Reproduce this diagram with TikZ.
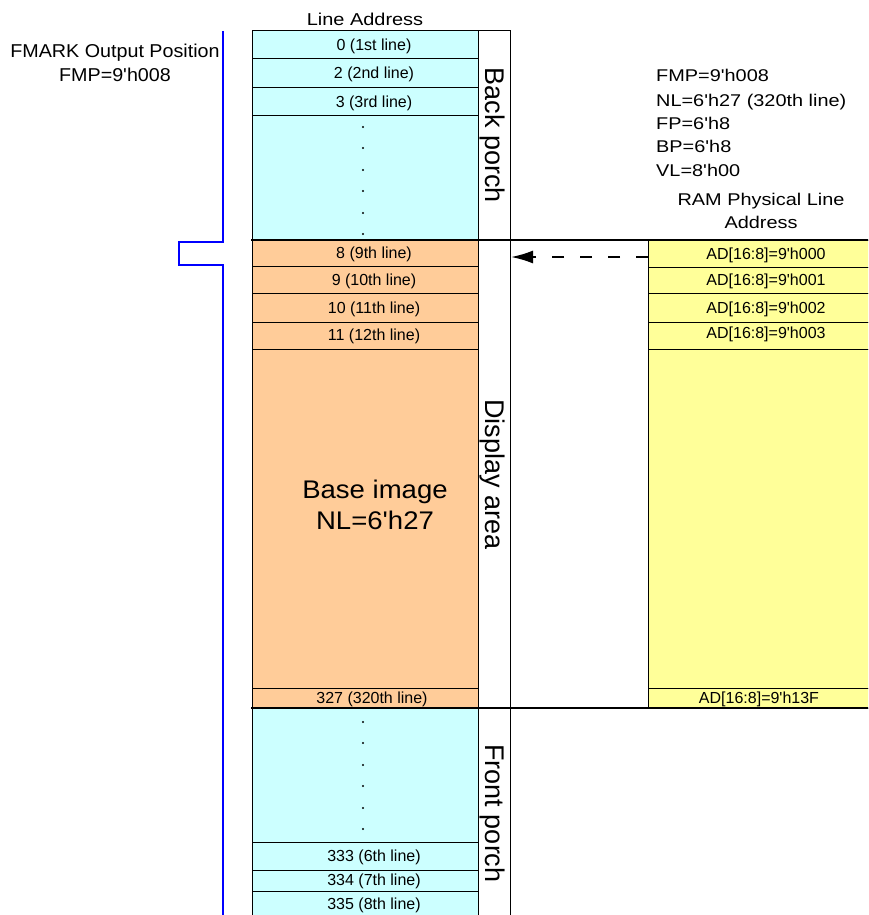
\documentclass[tikz,border=0pt]{standalone}
\usepackage{fontspec}
\setmainfont{Liberation Sans}
\usepackage{graphicx}
\usetikzlibrary{arrows.meta}
\definecolor{cyn}{HTML}{CCFFFF}
\definecolor{org}{HTML}{FFCC99}
\definecolor{ylw}{HTML}{FFFF99}
\definecolor{blu}{HTML}{0000FF}
\newcommand\xs[2]{\scalebox{#1}[1]{#2}}
\newcommand\q{\textquotesingle}
\begin{document}
\begin{tikzpicture}[x=1pt,y=-1pt,
  rowtxt/.style={font=\fontsize{16}{18}\selectfont, inner sep=0pt},
  infotxt/.style={font=\fontsize{17}{19}\selectfont, inner sep=0pt},
  sidetxt/.style={font=\fontsize{27}{30}\selectfont, inner sep=0pt, rotate=-90, anchor=base},
  bigtxt/.style={font=\fontsize{25.5}{28}\selectfont, inner sep=0pt, anchor=base},
  cell/.style={draw=black, line width=1pt},
  thickline/.style={line width=2pt},
  dotmark/.style={fill=black}]
\useasboundingbox (0,0) rectangle (868,915);
\clip (0,0) rectangle (868,915);
\fill[white] (0,0) rectangle (868,915);

% back porch rows
\draw[cell, fill=cyn] (252,31) rectangle (478,59);
\draw[cell, fill=cyn] (252,59) rectangle (478,88);
\draw[cell, fill=cyn] (252,88) rectangle (478,116);
\draw[cell, fill=cyn] (252,116) rectangle (478,240);
% display rows
\draw[cell, fill=org] (252,240) rectangle (478,266);
\draw[cell, fill=org] (252,266) rectangle (478,293);
\draw[cell, fill=org] (252,293) rectangle (478,322);
\draw[cell, fill=org] (252,322) rectangle (478,349);
\draw[cell, fill=org] (252,349) rectangle (478,688);
\draw[cell, fill=org] (252,688) rectangle (478,708);
% front porch rows
\draw[cell, fill=cyn] (252,708) rectangle (478,842);
\draw[cell, fill=cyn] (252,842) rectangle (478,870);
\draw[cell, fill=cyn] (252,870) rectangle (478,891);
\draw[cell, fill=cyn] (252,891) rectangle (478,930);
% side column
\draw[cell, fill=white] (478,31) rectangle (510,240);
\draw[cell, fill=white] (478,240) rectangle (510,708);
\draw[cell, fill=white] (478,708) rectangle (510,930);
% white gap box
\draw[cell, fill=white] (510,240) rectangle (648,708);
% RAM yellow column
\draw[cell, fill=ylw] (648,240) rectangle (890,267);
\draw[cell, fill=ylw] (648,267) rectangle (890,293);
\draw[cell, fill=ylw] (648,293) rectangle (890,322);
\draw[cell, fill=ylw] (648,322) rectangle (890,349);
\draw[cell, fill=ylw] (648,349) rectangle (890,688);
\draw[cell, fill=ylw] (648,688) rectangle (890,708);
% thick separators
\draw[thickline] (251,240) -- (890,240);
\draw[thickline] (251,708) -- (890,708);

% named anchors for connector
\coordinate (adrow) at (648,257);
\coordinate (dispedge) at (511,257);
\draw[line width=2pt, dash pattern=on 12pt off 16pt, -{Latex[length=22pt,width=13pt]}] (adrow) -- (dispedge);

% blue FMARK line
\draw[blu, line width=2pt] (223,31) -- (223,242) -- (179,242) -- (179,265) -- (223,265) -- (223,930);

% side labels
\node[sidetxt] (bp) at (485,135.5) {Back porch};
\node[sidetxt] (da) at (485,474.5) {Display area};
\node[sidetxt] (fp) at (485,813.5) {Front porch};

% headers
\node[font=\fontsize{17.2}{19}\selectfont, inner sep=0pt, anchor=base] (la) at (365,26) {\xs{1.16}{Line Address}};
\node[font=\fontsize{18.6}{20}\selectfont, inner sep=0pt, anchor=base] (fm1) at (115,58) {\xs{1.06}{FMARK Output Position}};
\node[font=\fontsize{18.6}{20}\selectfont, inner sep=0pt, anchor=base] (fm2) at (115,82) {\xs{1.06}{FMP=9\q h008}};

% info block
\node[infotxt, anchor=base west] (i1) at (656,82) {\xs{1.17}{FMP=9\q h008}};
\node[infotxt, anchor=base west] (i2) at (656,107) {\xs{1.17}{NL=6\q h27 (320th line)}};
\node[infotxt, anchor=base west] (i3) at (656,130) {\xs{1.17}{FP=6\q h8}};
\node[infotxt, anchor=base west] (i4) at (656,153) {\xs{1.17}{BP=6\q h8}};
\node[infotxt, anchor=base west] (i5) at (656,176) {\xs{1.17}{VL=8\q h00}};
\node[infotxt, anchor=base] (r1) at (761,205) {\xs{1.17}{RAM Physical Line}};
\node[infotxt, anchor=base] (r2) at (761,228) {\xs{1.17}{Address}};

% row labels
\node[rowtxt] (l0) at (374,46) {0 (1st line)};
\node[rowtxt] (l1) at (374,74.5) {2 (2nd line)};
\node[rowtxt] (l2) at (374,103) {3 (3rd line)};
\node[rowtxt] (l8) at (374,254.5) {8 (9th line)};
\node[rowtxt] (l9) at (374,281) {9 (10th line)};
\node[rowtxt] (l10) at (374,309) {10 (11th line)};
\node[rowtxt] (l11) at (374,336.5) {11 (12th line)};
\node[rowtxt] (l327) at (372,699) {327 (320th line)};
\node[rowtxt] (l333) at (374,857) {333 (6th line)};
\node[rowtxt] (l334) at (374,881) {334 (7th line)};
\node[rowtxt] (l335) at (374,905) {335 (8th line)};

\node[rowtxt] (a0) at (766,255.5) {AD[16:8]=9\q h000};
\node[rowtxt] (a1) at (766,281) {AD[16:8]=9\q h001};
\node[rowtxt] (a2) at (766,309) {AD[16:8]=9\q h002};
\node[rowtxt] (a3) at (766,334.5) {AD[16:8]=9\q h003};
\node[rowtxt] (a13f) at (759,699) {AD[16:8]=9\q h13F};

% base image text
\node[bigtxt] (bi1) at (375,498) {\xs{1.08}{Base image}};
\node[bigtxt] (bi2) at (375,529) {\xs{1.08}{NL=6\q h27}};

% dots
\foreach \yy in {127,148,170,191,213,234,722,743,765,786,808,829}
  \fill[dotmark] (363,\yy) circle (1.1pt);
\end{tikzpicture}
\end{document}
